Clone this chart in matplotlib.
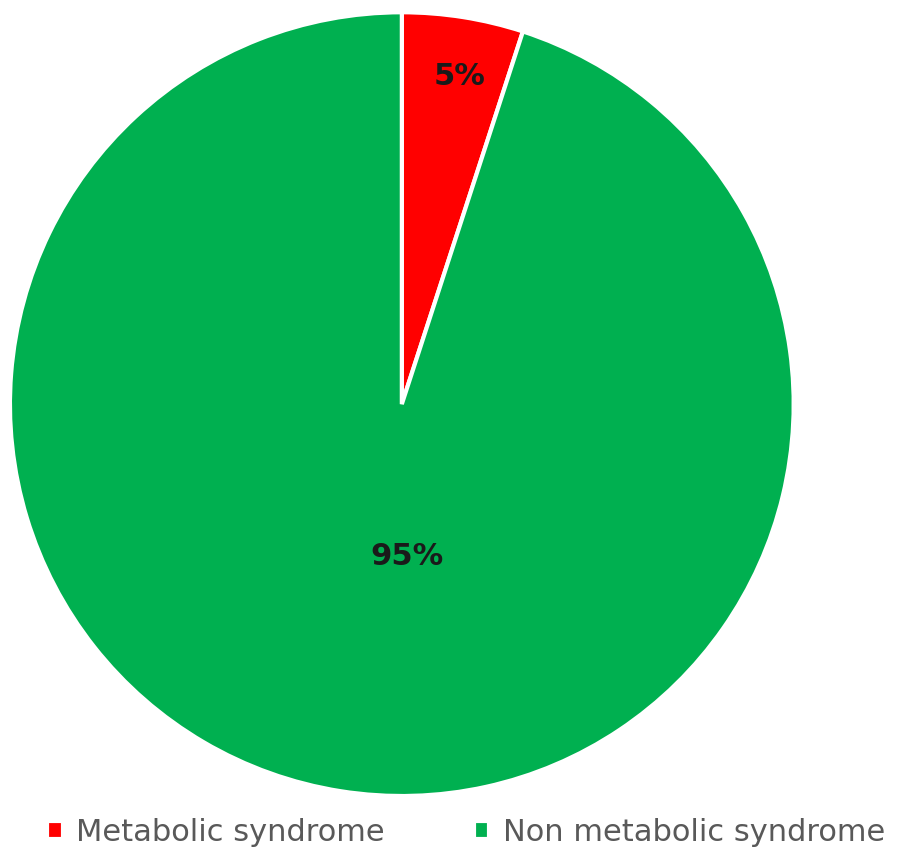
import numpy as np
import matplotlib.pyplot as plt

# Data
categories = ['Metabolic syndrome', 'Non metabolic syndrome']
shares = [5, 95]
colors = ['#FF0000', '#00B050']

fig = plt.figure(figsize=(9.05, 8.51), dpi=100)
ax = fig.add_axes([0.011, 0.0646, 0.866, 0.921])

wedges, _ = ax.pie(shares, colors=colors, startangle=90, counterclock=False,
                   wedgeprops=dict(edgecolor='white', linewidth=3))

# percentage labels (placement mimics the original chart)
label_pos = [(80, 0.85), (-88, 0.39)]  # (angle deg, radius fraction)
for val, (ang, d) in zip(shares, label_pos):
    a = np.deg2rad(ang)
    ax.text(d * np.cos(a), d * np.sin(a), f'{val}%', ha='center', va='center',
            fontsize=22, fontweight='bold', color='#1a1a1a')

ax.set_aspect('equal')
ax.set_xlim(-1, 1)
ax.set_ylim(-1, 1)

leg = fig.legend(wedges, categories, loc='center', bbox_to_anchor=(0.515, 0.022),
                 ncol=2, frameon=False, fontsize=22, handlelength=0.5, handleheight=0.5,
                 handletextpad=0.45, columnspacing=2.9, borderpad=0.1)
for t in leg.get_texts():
    t.set_color('#595959')

fig.savefig('out.png', dpi=100)
